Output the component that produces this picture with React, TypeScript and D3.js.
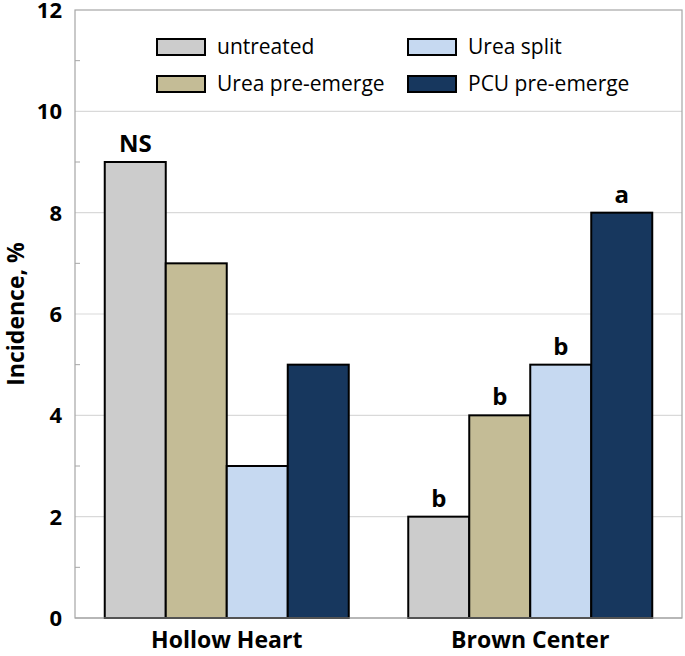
import React from "react";
import * as d3 from "d3";

const categories = ["Hollow Heart", "Brown Center"];
const seriesNames = ["untreated", "Urea pre-emerge", "Urea split", "PCU pre-emerge"];
const seriesColors = ["#cccccc", "#c4bc96", "#c6d9f1", "#17375e"];
const hollowHeart = [9, 7, 3, 5];
const brownCenter = [2, 4, 5, 8];
const hollowLabels = ["NS", "", "", ""];
const brownLabels = ["b", "b", "b", "a"];
const yTicks = [0, 2, 4, 6, 8, 10, 12];
const yMinorTicks = [1, 3, 5, 7, 9, 11];

const W = 685, H = 656;
const m = { left: 75, right: 3, top: 10, bottom: 38 };
const FONT = "Open Sans, Noto Sans, sans-serif";

export default function App() {
  const values = [hollowHeart, brownCenter];
  const labels = [hollowLabels, brownLabels];
  const y = d3.scaleLinear().domain([0, 12]).range([H - m.bottom, m.top]);
  const x0 = d3.scaleBand().domain(categories).range([m.left, W - m.right]);
  const groupW = 244;
  const xs = d3.scaleBand().domain(seriesNames).range([0, groupW]);

  const legendItems = [
    { i: 0, x: 157, y: 39 },
    { i: 2, x: 408, y: 39 },
    { i: 1, x: 157, y: 76 },
    { i: 3, x: 408, y: 76 },
  ];

  return (
    <svg width={W} height={H} style={{ position: "absolute", left: 0, top: 0, background: "#fff" }}>
      {yTicks.filter((t) => t > 0 && t < 12).map((t) => (
        <line key={t} x1={m.left} x2={W - m.right} y1={y(t)} y2={y(t)} stroke="#d9d9d9" strokeWidth={1.2} />
      ))}
      <rect x={m.left} y={m.top} width={W - m.right - m.left} height={y(0) - m.top} fill="none" stroke="#a6a6a6" strokeWidth={1.2} />
      {yMinorTicks.map((t) => (
        <line key={t} x1={m.left} x2={m.left + 5} y1={y(t)} y2={y(t)} stroke="#a6a6a6" strokeWidth={1} />
      ))}
      {categories.map((c, ci) => {
        const cx = (x0(c) as number) + x0.bandwidth() / 2;
        const gx = cx - groupW / 2;
        return (
          <g key={c}>
            {values[ci].map((v, si) => {
              const bx = gx + (xs(seriesNames[si]) as number);
              return (
                <g key={si}>
                  <rect x={bx} y={y(v)} width={xs.bandwidth()} height={y(0) - y(v)} fill={seriesColors[si]} stroke="#000" strokeWidth={2} />
                  {labels[ci][si] && (
                    <text x={bx + xs.bandwidth() / 2} y={y(v) - 10} textAnchor="middle" fontFamily={FONT} fontWeight="bold" fontSize={24} fill="#000">
                      {labels[ci][si]}
                    </text>
                  )}
                </g>
              );
            })}
            <text x={cx} y={648} textAnchor="middle" fontFamily={FONT} fontWeight="bold" fontSize={23} fill="#000">
              {c}
            </text>
          </g>
        );
      })}
      <line x1={m.left} x2={W - m.right} y1={y(0)} y2={y(0)} stroke="#a6a6a6" strokeWidth={1.2} />
      {yTicks.map((t) => (
        <text key={t} x={62} y={y(t) + 8} textAnchor="end" fontFamily={FONT} fontWeight="bold" fontSize={22} fill="#000">
          {t}
        </text>
      ))}
      <text transform={`translate(24, ${(m.top + y(0)) / 2}) rotate(-90)`} textAnchor="middle" fontFamily={FONT} fontWeight="bold" fontSize={23} fill="#000">
        Incidence, %
      </text>
      {legendItems.map((l) => (
        <g key={l.i}>
          <rect x={l.x} y={l.y} width={48} height={16} fill={seriesColors[l.i]} stroke="#000" strokeWidth={2} />
          <text x={l.x + 60} y={l.y + 8} dy="0.35em" fontFamily={FONT} fontSize={21} fill="#000">
            {seriesNames[l.i]}
          </text>
        </g>
      ))}
    </svg>
  );
}
